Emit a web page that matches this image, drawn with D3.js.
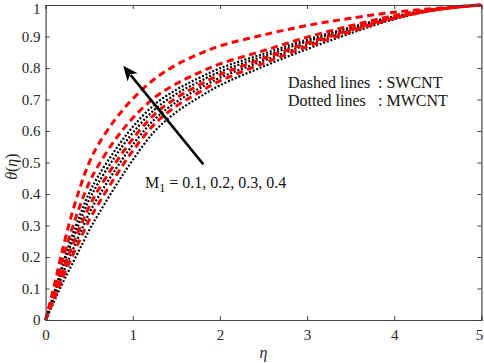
<!DOCTYPE html>
<html>
<head>
<meta charset="utf-8">
<script src="https://cdn.jsdelivr.net/npm/d3@7"></script>
<style>
  body { margin: 0; background: #fff; }
  svg { display: block; font-family: "Liberation Serif", "Times New Roman", serif; }
</style>
</head>
<body>
<svg id="chart" width="484" height="363"></svg>
<script>
// eta grid shared by all curves
const eta = [0, 0.1, 0.2, 0.3, 0.4, 0.5, 0.6, 0.8, 1, 1.25, 1.5, 1.75, 2, 2.5, 3, 3.5, 4, 4.5, 5];

// SWCNT (dashed red), M1 = 0.1 .. 0.4
const swcnt01 = [0, 0.068, 0.137, 0.199, 0.259, 0.317, 0.366, 0.455, 0.537, 0.622, 0.679, 0.721, 0.759, 0.815, 0.868, 0.915, 0.957, 0.986, 1];
const swcnt02 = [0, 0.078, 0.159, 0.231, 0.298, 0.360, 0.411, 0.498, 0.575, 0.653, 0.705, 0.744, 0.779, 0.830, 0.879, 0.922, 0.960, 0.986, 1];
const swcnt03 = [0, 0.095, 0.197, 0.287, 0.367, 0.436, 0.488, 0.573, 0.641, 0.706, 0.750, 0.784, 0.813, 0.855, 0.898, 0.934, 0.966, 0.988, 1];
const swcnt04 = [0, 0.110, 0.230, 0.335, 0.425, 0.500, 0.555, 0.637, 0.702, 0.765, 0.810, 0.843, 0.870, 0.905, 0.935, 0.958, 0.977, 0.990, 1];

// MWCNT (dotted black), M1 = 0.1 .. 0.4
const mwcnt01 = [0, 0.060, 0.120, 0.175, 0.230, 0.285, 0.333, 0.424, 0.508, 0.599, 0.660, 0.705, 0.745, 0.805, 0.860, 0.910, 0.955, 0.985, 1];
const mwcnt02 = [0, 0.073, 0.148, 0.215, 0.279, 0.339, 0.389, 0.477, 0.556, 0.637, 0.692, 0.733, 0.769, 0.823, 0.874, 0.919, 0.959, 0.986, 1];
const mwcnt03 = [0, 0.083, 0.170, 0.247, 0.318, 0.382, 0.433, 0.520, 0.594, 0.668, 0.718, 0.755, 0.788, 0.837, 0.884, 0.925, 0.962, 0.987, 1];
const mwcnt04 = [0, 0.088, 0.181, 0.263, 0.337, 0.403, 0.455, 0.540, 0.613, 0.684, 0.731, 0.767, 0.799, 0.845, 0.890, 0.929, 0.964, 0.987, 1];

const xTicks = [0, 1, 2, 3, 4, 5];
const yTicks = [0, 0.1, 0.2, 0.3, 0.4, 0.5, 0.6, 0.7, 0.8, 0.9, 1];

const svg = d3.select('#chart');
const plotLeft = 45.6, plotRight = 481.4, plotTop = 5, plotBottom = 320;

const x = d3.scaleLinear().domain([0, 5]).range([plotLeft, plotRight]);
const y = d3.scaleLinear().domain([0, 1]).range([plotBottom, plotTop]);

const axisColor = '#444';
const textColor = '#262626';
const serif = '"Liberation Serif", "Times New Roman", serif';

svg.append('rect').attr('width', 484).attr('height', 363).attr('fill', '#fff');

// curves
const line = d3.line()
    .x((d, i) => x(eta[i]))
    .y(d => y(d))
    .curve(d3.curveCatmullRom.alpha(0.5));

const dotted = [mwcnt01, mwcnt02, mwcnt03, mwcnt04];
const dashed = [swcnt01, swcnt02, swcnt03, swcnt04];

svg.append('g').selectAll('path')
    .data(dotted)
    .join('path')
    .attr('d', line)
    .attr('fill', 'none')
    .attr('stroke', '#000')
    .attr('stroke-width', 2.2)
    .attr('stroke-dasharray', '2,1.8');

svg.append('g').selectAll('path')
    .data(dashed)
    .join('path')
    .attr('d', line)
    .attr('fill', 'none')
    .attr('stroke', '#ff0000')
    .attr('stroke-width', 3)
    .attr('stroke-dasharray', '7,4.5');

// box + axes (ticks inward, on all sides)
const bottomAxis = d3.axisBottom(x).tickValues(xTicks).tickSize(-4).tickFormat(d3.format('d'));
const topAxis = d3.axisTop(x).tickValues(xTicks).tickSize(-4).tickFormat('');
const leftAxis = d3.axisLeft(y).tickValues(yTicks).tickSize(-4).tickFormat(d => d === 0 || d === 1 ? d : d.toFixed(1));
const rightAxis = d3.axisRight(y).tickValues(yTicks).tickSize(-4).tickFormat('');

function styleAxis(g) {
    g.attr('font-family', serif).attr('font-size', 15);
    g.select('.domain').attr('stroke', axisColor).attr('stroke-width', 1.2);
    g.selectAll('.tick line').attr('stroke', axisColor);
    g.selectAll('.tick text').attr('fill', textColor);
}

const gx = svg.append('g').attr('transform', `translate(0,${plotBottom})`).call(bottomAxis).call(styleAxis);
gx.selectAll('.tick text').attr('y', 9.5);
gx.selectAll('.tick text').filter(d => d === 5).attr('dx', -2.5);

svg.append('g').attr('transform', `translate(0,${plotTop})`).call(topAxis).call(styleAxis);

const gy = svg.append('g').attr('transform', `translate(${plotLeft},0)`).call(leftAxis).call(styleAxis);
gy.selectAll('.tick text').attr('x', -5);
gy.selectAll('.tick text').filter(d => d === 1).attr('dy', '0.55em');

svg.append('g').attr('transform', `translate(${plotRight},0)`).call(rightAxis).call(styleAxis);

// axis labels
svg.append('text')
    .attr('x', x(2.5))
    .attr('y', 358)
    .attr('text-anchor', 'middle')
    .attr('fill', textColor)
    .style('font-size', '16px')
    .style('font-style', 'italic')
    .text('η');

const yl = svg.append('text')
    .attr('transform', `translate(17,${y(0.487)}) rotate(-90)`)
    .attr('text-anchor', 'middle')
    .attr('fill', textColor)
    .style('font-size', '16px');
yl.append('tspan').style('font-style', 'italic').text('θ');
yl.append('tspan').text('(');
yl.append('tspan').style('font-style', 'italic').text('η');
yl.append('tspan').text(')');

// arrow
const tail = [x(1.81), y(0.494)];
const tip = [x(0.89), y(0.807)];
const dx = tip[0] - tail[0], dy = tip[1] - tail[1];
const len = Math.hypot(dx, dy);
const ux = dx / len, uy = dy / len;
const headLen = 15, headW = 6.5;
const base = [tip[0] - ux * headLen, tip[1] - uy * headLen];

svg.append('line')
    .attr('x1', tail[0]).attr('y1', tail[1])
    .attr('x2', base[0] + ux * 3).attr('y2', base[1] + uy * 3)
    .attr('stroke', '#000')
    .attr('stroke-width', 2.5);

svg.append('path')
    .attr('d', `M${tip[0]},${tip[1]}L${base[0] - uy * headW},${base[1] + ux * headW}L${base[0] + ux * 4},${base[1] + uy * 4}L${base[0] + uy * headW},${base[1] - ux * headW}Z`)
    .attr('fill', '#000');

// annotations
const ann = svg.append('g')
    .attr('fill', '#111')
    .style('font-size', '16px');

ann.append('text').attr('x', 288).attr('y', 88).text('Dashed lines');
ann.append('text').attr('x', 378).attr('y', 88).text(': SWCNT');
ann.append('text').attr('x', 288).attr('y', 105.5).text('Dotted lines');
ann.append('text').attr('x', 378).attr('y', 105.5).text(': MWCNT');

const m = ann.append('text').attr('x', 145).attr('y', 188);
m.append('tspan').text('M');
m.append('tspan').attr('dy', 4).style('font-size', '12px').text('1');
m.append('tspan').attr('dy', -4).text(' = 0.1, 0.2, 0.3, 0.4');
</script>
</body>
</html>
